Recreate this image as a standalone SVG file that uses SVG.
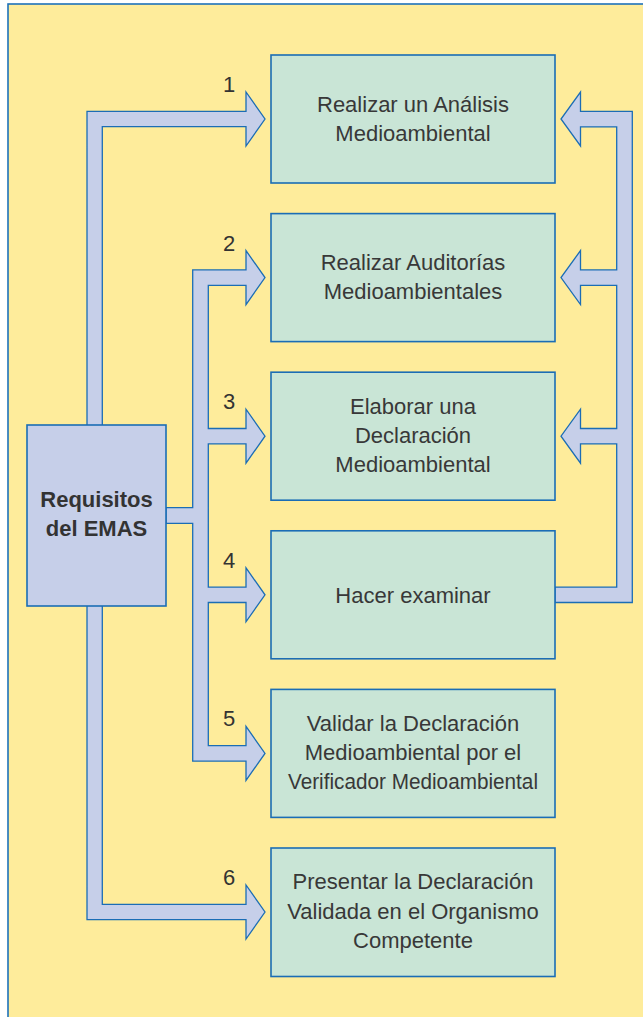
<svg xmlns="http://www.w3.org/2000/svg" width="643" height="1017" viewBox="0 0 643 1017">
<style>
.frame{fill:#FEEC9B;stroke:#1F72BA;stroke-width:1.6}
.box{fill:#C9E5D6;stroke:#1B6DB5;stroke-width:1.6}
.req{fill:#C6CFE9;stroke:#1B6DB5;stroke-width:1.6}
.arrow{fill:#C6CFE9;stroke:#1B6DB5;stroke-width:1.3;stroke-linejoin:miter}
.t{font-family:"Liberation Sans",Arial,sans-serif;font-size:22px;fill:#383838;text-anchor:middle}
.tb{font-family:"Liberation Sans",Arial,sans-serif;font-size:22px;font-weight:bold;fill:#333;text-anchor:middle}
.num{font-family:"Liberation Sans",Arial,sans-serif;font-size:22px;fill:#333;text-anchor:middle}
</style>
<rect class="frame" x="8" y="4" width="640" height="1020"/>
<g id="connectors">
<path class="arrow" d="M87,111.3 H246 V92 L265,119 L246,146 V126.7 H102.3 V904.3 H246 V885 L265,912 L246,939 V919.7 H87 Z"/>
<path class="arrow" d="M192.7,269.9 H246 V250.6 L265,277.6 L246,304.6 V285.3 H208.3 V428.5 H246 V409.2 L265,436.2 L246,463.2 V443.9 H208.3 V587.1 H246 V567.8 L265,594.8 L246,621.8 V602.5 H208.3 V745.7 H246 V726.4 L265,753.4 L246,780.4 V761.1 H192.7 V523.3 H166 V507.7 H192.7 Z"/>
<path class="arrow" d="M632.3,111.3 V602.5 H555 V587.1 H616.7 V443.9 H580.5 V463.2 L561,436.2 L580.5,409.2 V428.5 H616.7 V285.3 H580.5 V304.6 L561,277.6 L580.5,250.6 V269.9 H616.7 V126.9 H580.5 V146 L561,119 L580.5,92 V111.3 Z"/>
<text class="num" x="229" y="92">1</text>
<text class="num" x="229" y="250.6">2</text>
<text class="num" x="229" y="409.2">3</text>
<text class="num" x="229" y="567.8">4</text>
<text class="num" x="229" y="726.4">5</text>
<text class="num" x="229" y="885">6</text>
</g>
<g id="requisitos">
<rect class="req" x="27" y="425" width="139" height="181"/>
<text class="tb" x="96.5" y="507">Requisitos</text>
<text class="tb" x="96.5" y="536">del EMAS</text>
</g>
<g id="box1">
<rect class="box" x="271" y="55" width="284" height="128"/>
<text class="t" x="413" y="111.5">Realizar un Análisis</text>
<text class="t" x="413" y="140.5">Medioambiental</text>
</g>
<g id="box2">
<rect class="box" x="271" y="213.6" width="284" height="128"/>
<text class="t" x="413" y="270">Realizar Auditorías</text>
<text class="t" x="413" y="299">Medioambientales</text>
</g>
<g id="box3">
<rect class="box" x="271" y="372.2" width="284" height="128"/>
<text class="t" x="413" y="414">Elaborar una</text>
<text class="t" x="413" y="443">Declaración</text>
<text class="t" x="413" y="472">Medioambiental</text>
</g>
<g id="box4">
<rect class="box" x="271" y="530.8" width="284" height="128"/>
<text class="t" x="413" y="602.5">Hacer examinar</text>
</g>
<g id="box5">
<rect class="box" x="271" y="689.4" width="284" height="128"/>
<text class="t" x="413" y="731">Validar la Declaración</text>
<text class="t" x="413" y="760">Medioambiental por el</text>
<text class="t" x="413" y="789" textLength="250" lengthAdjust="spacingAndGlyphs">Verificador Medioambiental</text>
</g>
<g id="box6">
<rect class="box" x="271" y="848" width="284" height="128.5"/>
<text class="t" x="413" y="889">Presentar la Declaración</text>
<text class="t" x="413" y="918.5">Validada en el Organismo</text>
<text class="t" x="413" y="948">Competente</text>
</g>
</svg>
